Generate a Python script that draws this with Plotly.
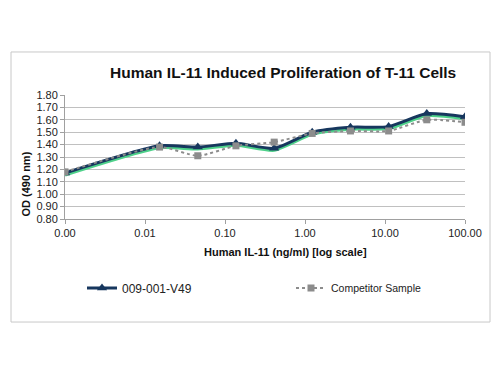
import plotly.graph_objects as go

conc = [0.001, 0.0152, 0.0457, 0.137, 0.412, 1.23, 3.70, 11.1, 33.3, 100.0]
v49 = [1.17, 1.39, 1.38, 1.41, 1.37, 1.50, 1.54, 1.545, 1.65, 1.625]
competitor = [1.18, 1.38, 1.31, 1.39, 1.42, 1.49, 1.51, 1.51, 1.60, 1.58]
xtick_vals = [0.001, 0.01, 0.1, 1, 10, 100]
xtick_text = ["0.00", "0.01", "0.10", "1.00", "10.00", "100.00"]

FONT = "Liberation Sans, Arial, sans-serif"
NAVY = "#17375e"
GREEN = "#4fd18a"

fig = go.Figure()
# glow under the main line
fig.add_trace(go.Scatter(
    x=conc, y=[v - 0.012 for v in v49], mode="lines",
    line=dict(color=GREEN, width=4, shape="spline", smoothing=0.6),
    showlegend=False, hoverinfo="skip"))
fig.add_trace(go.Scatter(
    x=conc, y=v49, mode="lines+markers", name="009-001-V49", legend="legend",
    line=dict(color=NAVY, width=3, shape="spline", smoothing=0.6),
    marker=dict(symbol="triangle-up", size=9, color=NAVY)))
fig.add_trace(go.Scatter(
    x=conc, y=competitor, mode="lines+markers", name="Competitor Sample", legend="legend2",
    line=dict(color="#8c8c8c", width=2, dash="dot", shape="spline", smoothing=0.6),
    marker=dict(symbol="square", size=7, color="#8c8c8c")))

fig.update_layout(
    width=500, height=375,
    margin=dict(l=65, r=35, t=95, b=156, autoexpand=False),
    paper_bgcolor="white", plot_bgcolor="white",
    font=dict(family=FONT, size=11, color="#222"),
    xaxis=dict(type="log", range=[-3, 2], tickvals=xtick_vals, ticktext=xtick_text,
               showgrid=False, zeroline=False, showline=True, linecolor="#a0a0a0",
               ticks="outside", ticklen=4, tickcolor="#a0a0a0",
               tickfont=dict(size=11, color="#222")),
    yaxis=dict(range=[0.8, 1.8], dtick=0.1, tickformat=".2f",
               showgrid=True, gridcolor="#c0c0c0", gridwidth=1, zeroline=False,
               showline=True, linecolor="#a0a0a0", ticks="outside", ticklen=4,
               tickcolor="#a0a0a0", tickfont=dict(size=11, color="#222")),
    legend=dict(orientation="h", x=0.0425, y=-0.556, xanchor="left", yanchor="middle",
                font=dict(size=12, color="#222"), bgcolor="rgba(0,0,0,0)"),
    legend2=dict(orientation="h", x=0.565, y=-0.556, xanchor="left", yanchor="middle",
                 font=dict(size=10.5, color="#222"), bgcolor="rgba(0,0,0,0)"),
    shapes=[dict(type="rect", xref="paper", yref="paper",
                 x0=-0.135, x1=1.0625, y0=-0.831, y1=1.347,
                 line=dict(color="#c8c8c8", width=1), fillcolor="rgba(0,0,0,0)",
                 layer="below")],
    annotations=[
        dict(text="<b>Human IL-11 Induced Proliferation of T-11 Cells</b>",
             xref="paper", yref="paper", x=0.545, y=1.185, showarrow=False,
             xanchor="center", yanchor="middle", font=dict(size=15.5, color="#111")),
        dict(text="<b>Human IL-11 (ng/ml) [log scale]</b>",
             xref="paper", yref="paper", x=0.55, y=-0.27, showarrow=False,
             xanchor="center", yanchor="middle", font=dict(size=11, color="#111")),
        dict(text="<b>OD (490 nm)</b>", textangle=-90,
             xref="paper", yref="paper", x=-0.097, y=0.28, showarrow=False,
             xanchor="center", yanchor="middle", font=dict(size=11, color="#111")),
    ],
)

fig.write_html("out.html", config={"displayModeBar": False},
               post_script="document.body.style.margin='0';document.body.style.overflow='hidden';")
